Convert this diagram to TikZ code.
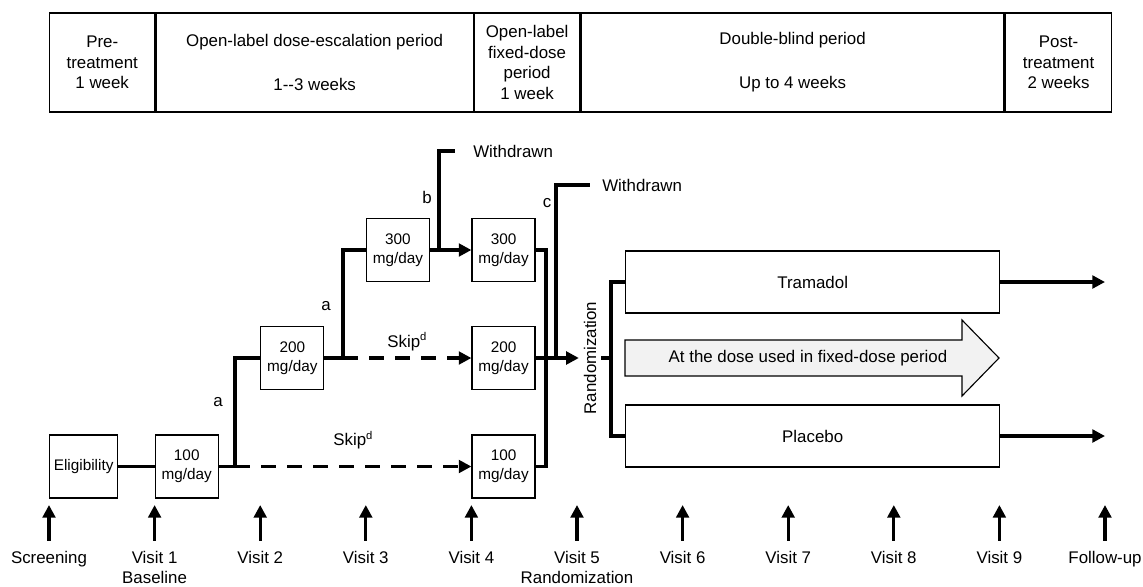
\documentclass[tikz,border=0pt]{standalone}
\usepackage{fontspec}
\setmainfont{Liberation Sans}
\usetikzlibrary{arrows.meta, positioning}

\begin{document}
\begin{tikzpicture}[x=0.025cm, y=-0.025cm, font=\fontsize{12}{14.6}\selectfont,
    period/.style={draw, line width=1pt, minimum height=2.475cm, align=center, inner sep=0pt, anchor=west},
    dose/.style={draw, line width=0.9pt, minimum width=1.575cm, minimum height=1.575cm, align=center, inner sep=1pt, font=\fontsize{10.9}{13.5}\selectfont, anchor=west},
    arm/.style={draw, line width=0.9pt, minimum width=9.35cm, minimum height=1.55cm, anchor=west},
    link/.style={line width=2.5pt},
    arrowed/.style={-{Triangle[length=9pt,width=9pt]}},
    dashlink/.style={link, dash pattern=on 10.5pt off 8pt, arrowed},
    lbl/.style={inner sep=0pt},
    visit/.style={line width=2.2pt, -{Triangle[length=9pt,width=9pt]}, shorten <=7pt}]

\useasboundingbox (0,0) rectangle (1143,586);

\node[period, minimum width=2.625cm] (pre) at (49,62.5) {Pre-\\treatment\\1 week};
\node[period, minimum width=7.925cm] (esc) at (pre.east) {Open-label dose-escalation period\\[16.7pt]1-{}-3 weeks};
\node[period, minimum width=2.625cm] (fix) at (esc.east) {Open-label\\fixed-dose\\period\\1 week};
\node[period, minimum width=10.575cm] (dbl) at (fix.east) {Double-blind period\\[16.7pt]Up to 4 weeks};
\node[period, minimum width=2.65cm] (post) at (dbl.east) {Post-\\treatment\\2 weeks};

\node[dose, minimum width=1.7cm] (elig) at (49,466.5) {Eligibility};
\node[dose] (d1) at (154.6,466.5) {100\\mg/day};
\node[dose] (d2) at (260.2,358) {200\\mg/day};
\node[dose] (d3) at (365.8,250) {300\\mg/day};
\node[dose] (d4c) at (471.4,250) {300\\mg/day};
\node[dose] (d4b) at (471.4,358) {200\\mg/day};
\node[dose] (d4a) at (471.4,466.5) {100\\mg/day};

\node[rotate=90] (rand) at (590,358) {Randomization};
\node[arm] (trm) at (625,282) {Tramadol};
\node[arm] (plc) at (625,436) {Placebo};

\draw[line width=0.8pt, fill=gray!10] (625,340) -- (962,340) -- (962,320) -- (999,358)
    -- (962,396) -- (962,376) -- (625,376) -- cycle;
\node (fixdose) at (808,358) {At the dose used in fixed-dose period};

\coordinate (j1) at (235,466.5);
\coordinate (j2) at (343,358);
\coordinate (j3) at (439,250);
\coordinate (w1) at (455,151);
\coordinate (j4) at (546,250);
\coordinate (j5) at (556,358);
\coordinate (w2) at (590,185);
\coordinate (j6) at (611,358);
\coordinate (e1) at (1105,282);
\coordinate (e2) at (1105,436);

\node[lbl, anchor=west] (wd1) at (473,151) {Withdrawn};
\node[lbl, anchor=west] (wd2) at (602,185) {Withdrawn};
\node[lbl] (a1) at (218,402) {a};
\node[lbl] (a2) at (326,306) {a};
\node[lbl] (b) at (427,197) {b};
\node[lbl] (c) at (547,203) {c};

\draw[link] (elig) -- (d1);
\draw[link] (d1) -- (j1) |- (d2);
\draw[dashlink] (j1) -- node[lbl, above=11pt] (s1) {Skip\textsuperscript{d}} (d4a);
\draw[link] (d2) -- (j2) |- (d3);
\draw[dashlink] (j2) -- node[lbl, above=4pt] (s2) {Skip\textsuperscript{d}} (d4b);
\draw[link, arrowed] (d3) -- (d4c);
\draw[link] (j3) |- (w1);
\draw[link] (d4c) -- (j4) |- (d4a);
\draw[link, arrowed] (d4b) -- (rand);
\draw[link] (j5) |- (w2);
\draw[link] (rand.south) -- (j6);
\draw[link] (trm) -| (j6) |- (plc);
\draw[link, arrowed] (trm) -- (e1);
\draw[link, arrowed] (plc) -- (e2);

\foreach \i/\name in {0/Screening,1/Visit 1,2/Visit 2,3/Visit 3,4/Visit 4,5/Visit 5,6/Visit 6,7/Visit 7,8/Visit 8,9/Visit 9,10/Follow-up} {
    \coordinate (t\i) at (49+105.6*\i,505);
    \node[lbl, anchor=base] (v\i) at (49+105.6*\i,563) {\name};
    \draw[visit] (v\i) -- (t\i);
}
\node[lbl, anchor=base] (v1b) at (154.6,583) {Baseline};
\node[lbl, anchor=base] (v5b) at (577,583) {Randomization};
\end{tikzpicture}
\end{document}
